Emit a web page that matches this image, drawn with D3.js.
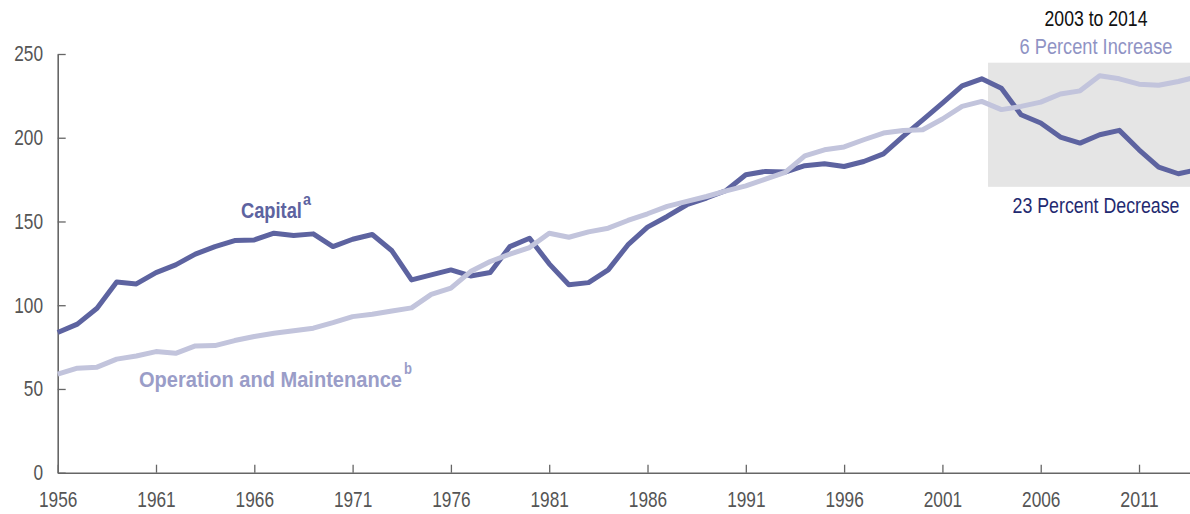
<html>
  <head>
    <script src="https://d3js.org/d3.v7.min.js"></script>
    <style>
      body {margin:0; background:white;}
      text {font-family:"Liberation Sans",Arial,sans-serif;}
    </style>
  </head>
  <body>
    <div id="chart1"></div>
    <script>
      // years 1956..2014
      var years = d3.range(1956, 2015);
      var capital = [83.7, 88.7, 98.2, 113.8, 112.7, 119.5, 124.1, 130.5, 135, 138.6,
                     139, 143, 141.6, 142.6, 135, 139.4, 142.2, 132.5, 115.1, 118.1,
                     121.1, 117.5, 119.5, 135, 140, 124.7, 112.2, 113.5, 121.1, 136,
                     146.6, 153, 160, 164, 168.5, 177.9, 179.9, 179.5, 183.3, 184.5,
                     182.8, 185.8, 190.4, 200.8, 210.7, 220.7, 231, 235.2, 229.5, 213.7,
                     208.8, 200.4, 196.8, 201.8, 204.4, 192.8, 182.5, 178.5, 181];
      var operation = [58.8, 62.4, 63, 67.8, 69.7, 72.3, 71.3, 75.7, 75.9, 78.9,
                       81.3, 83.3, 84.7, 86.3, 89.6, 93.2, 94.6, 96.6, 98.4, 106.5,
                       110.2, 120.1, 126.1, 130.5, 134.4, 143, 140.6, 143.8, 146, 150.6,
                       154.6, 159, 162, 164.9, 168.3, 171.3, 175.3, 179.3, 189.2, 192.8,
                       194.5, 198.8, 202.8, 204.3, 204.8, 211.2, 218.7, 221.7, 216.8, 218.7,
                       221.3, 226.1, 228, 237, 235.2, 232, 231.3, 233.6, 236.4];
      var xTicks = [1956, 1961, 1966, 1971, 1976, 1981, 1986, 1991, 1996, 2001, 2006, 2011];
      var yTicks = [0, 50, 100, 150, 200, 250];
      // highlighted period box (years, values)
      var boxYears = [2003.32, 2014.5];
      var boxValues = [170.7, 244.8];

      var width = 1190, height = 514;

      // the original uses a condensed face: squeeze a text horizontally to width w
      function condense(sel, w){
        sel.each(function(){
          var t = d3.select(this);
          var sx = w / this.getComputedTextLength();
          var tx = +t.attr("x") || 0, ty = +t.attr("y") || 0;
          t.attr("x", 0).attr("y", 0)
           .attr("transform", "translate(" + tx + "," + ty + ") scale(" + sx + ",1)");
        });
      }

      var svg = d3.select("#chart1")
        .append("svg")
          .attr("width", width)
          .attr("height", height)
          .style("display", "block");

      var x = d3.scaleLinear()
        .domain([1956, 2014])
        .range([57.7, 1198]);
      var y = d3.scaleLinear()
        .domain([0, 250])
        .range([472.7, 54]);

      svg.append("rect")
        .attr("x", x(boxYears[0]))
        .attr("y", y(boxValues[1]))
        .attr("width", x(boxYears[1]) - x(boxYears[0]))
        .attr("height", y(boxValues[0]) - y(boxValues[1]))
        .attr("fill", "#e5e5e5");

      var xAxis = d3.axisBottom(x)
        .tickValues(xTicks)
        .tickFormat(d3.format("d"))
        .tickSizeInner(-8)
        .tickSizeOuter(0)
        .tickPadding(19);
      var gx = svg.append("g")
        .attr("transform", "translate(0," + y(0) + ")")
        .call(xAxis);

      var yAxis = d3.axisLeft(y)
        .tickValues(yTicks)
        .tickSizeInner(-8)
        .tickSizeOuter(0)
        .tickPadding(14.7);
      var gy = svg.append("g")
        .attr("transform", "translate(" + x(1956) + ",0)")
        .call(yAxis);

      [gx, gy].forEach(function(g){
        g.select(".domain").attr("stroke", "#666").attr("stroke-width", 1.6);
        g.selectAll(".tick line").attr("stroke", "#666").attr("stroke-width", 1.3);
        g.selectAll(".tick text")
          .attr("fill", "#555")
          .style("font-size", "21.5px")
          .style("font-family", '"Liberation Sans",Arial,sans-serif')
          .each(function(d){
            condense(d3.select(this), String(d).length * 9.6);
          });
      });

      var line = d3.line()
        .x(function(d, i){ return x(years[i]); })
        .y(function(d){ return y(d); });

      svg.append("path")
        .datum(capital)
        .attr("d", line)
        .attr("fill", "none")
        .attr("stroke", "#5d63a0")
        .attr("stroke-width", 5)
        .attr("stroke-linejoin", "round");

      svg.append("path")
        .datum(operation)
        .attr("d", line)
        .attr("fill", "none")
        .attr("stroke", "#c2c4dc")
        .attr("stroke-width", 5)
        .attr("stroke-linejoin", "round");

      // series labels
      svg.append("text")
        .attr("x", 241)
        .attr("y", 218)
        .attr("fill", "#5d63a0")
        .style("font-size", "22px")
        .style("font-weight", "bold")
        .text("Capital")
        .call(condense, 61);
      svg.append("text")
        .attr("x", 303)
        .attr("y", 205)
        .attr("fill", "#5d63a0")
        .style("font-size", "16px")
        .style("font-weight", "bold")
        .text("a")
        .call(condense, 8);

      svg.append("text")
        .attr("x", 139)
        .attr("y", 387)
        .attr("fill", "#9a9dc8")
        .style("font-size", "22px")
        .style("font-weight", "bold")
        .text("Operation and Maintenance")
        .call(condense, 263);
      svg.append("text")
        .attr("x", 404)
        .attr("y", 374)
        .attr("fill", "#9a9dc8")
        .style("font-size", "16px")
        .style("font-weight", "bold")
        .text("b")
        .call(condense, 8);

      // annotation of the highlighted period
      svg.append("text")
        .attr("x", 1096)
        .attr("y", 26)
        .attr("text-anchor", "middle")
        .attr("fill", "#111")
        .style("font-size", "22px")
        .text("2003 to 2014")
        .call(condense, 103);
      svg.append("text")
        .attr("x", 1096)
        .attr("y", 54)
        .attr("text-anchor", "middle")
        .attr("fill", "#8f93c4")
        .style("font-size", "22px")
        .text("6 Percent Increase")
        .call(condense, 153);
      svg.append("text")
        .attr("x", 1096)
        .attr("y", 213)
        .attr("text-anchor", "middle")
        .attr("fill", "#1f2a70")
        .style("font-size", "22px")
        .text("23 Percent Decrease")
        .call(condense, 167);
    </script>
  </body>
</html>
